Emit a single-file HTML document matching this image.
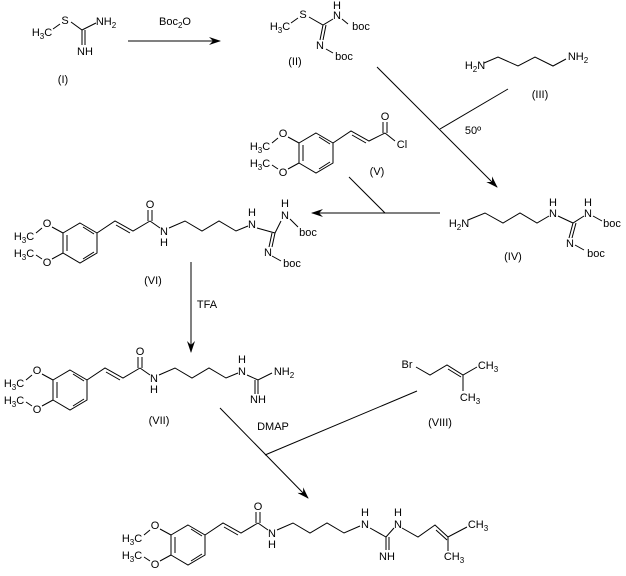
<!DOCTYPE html>
<html><head><meta charset="utf-8"><style>
html,body{margin:0;padding:0;background:#fff}
svg{display:block}
text{font-family:"Liberation Sans",Arial,sans-serif;font-size:11px;fill:#000}
.l{stroke:#000;stroke-width:1;fill:none}
</style></head><body>
<svg width="626" height="576" viewBox="0 0 626 576" xmlns="http://www.w3.org/2000/svg" text-anchor="middle" dominant-baseline="central">
<defs>
<marker id="ah" markerWidth="12" markerHeight="8" refX="11" refY="4" orient="auto" markerUnits="userSpaceOnUse">
<path d="M0,0 L12,4 L0,8 L4,4 Z" fill="#000"/></marker>
</defs>

<!-- (I) -->
<text x="42" y="33">H<tspan font-size="8" dy="3">3</tspan><tspan dy="-3">C</tspan></text>
<text x="65" y="21">S</text>
<path class="l" d="M53,29 L60,24 M71,22 L82,30 L96,23 M82,30 L82,45 M85,30 L85,45"/>
<text x="106" y="22">NH<tspan font-size="8" dy="3">2</tspan></text>
<text x="85" y="52">NH</text>
<text x="63" y="80">(I)</text>
<path class="l" d="M128,41 L220,41" marker-end="url(#ah)"/>
<text x="175" y="22">Boc<tspan font-size="8" dy="3">2</tspan><tspan dy="-3">O</tspan></text>

<!-- (II) -->
<text x="280" y="27">H<tspan font-size="8" dy="3">3</tspan><tspan dy="-3">C</tspan></text>
<text x="303" y="15">S</text>
<text x="337" y="16">N</text><text x="337" y="6">H</text>
<text x="361" y="27">boc</text>
<text x="320" y="46">N</text>
<text x="344" y="57">boc</text>
<text x="295" y="62">(II)</text>
<path class="l" d="M291,23 L298,18 M309,17 L323,25 L333,19 M342,19 L348,24 M323,25 L320,40 M326,25 L323,40 M326,49 L333,53"/>

<!-- (III) -->
<text x="475" y="66">H<tspan font-size="8" dy="3">2</tspan><tspan dy="-3">N</tspan></text>
<path class="l" d="M484,63 L498,57 L518,66 L535,57 L553,66 L566,59"/>
<text x="578" y="57">NH<tspan font-size="8" dy="3">2</tspan></text>
<text x="540" y="95">(III)</text>
<path class="l" d="M377,67 L497,187" marker-end="url(#ah)"/>
<path class="l" d="M508,89 L440,129"/>
<text x="473" y="131">50º</text>

<!-- (IV) -->
<text x="459" y="224">H<tspan font-size="8" dy="3">2</tspan><tspan dy="-3">N</tspan></text>
<path class="l" d="M468,220 L485,213 L503,223 L520,213 L537,223 L549,216 M558,216 L573,223 L584,216 M593,216 L602,221 M573,223 L569,238 M576,223 L572,238 M575,245 L584,250"/>
<text x="553" y="214">N</text><text x="553" y="203">H</text>
<text x="588" y="214">N</text><text x="588" y="203">H</text>
<text x="612" y="224">boc</text>
<text x="570" y="244">N</text>
<text x="596" y="254">boc</text>
<text x="513" y="257">(IV)</text>

<path class="l" d="M440,213 L312,213" marker-end="url(#ah)"/>
<path class="l" d="M349,177 L385,213"/>

<!-- (V) -->
<g transform="translate(316,153)">
<path class="l" d="M0,-20 L17,-10 L17,10 L0,20 L-17,10 L-17,-10 Z M-13,-8 L-13,8 M3,16 L14,9 M3,-16 L14,-9"/>
<path class="l" d="M-17,-10 L-28,-16 M-38,-15 L-44,-10 M-17,10 L-28,16 M-38,16 L-44,12"/>
<text x="-33" y="-19">O</text><text x="-33" y="20">O</text>
<text x="-56" y="-6">H<tspan font-size="8" dy="3">3</tspan><tspan dy="-3">C</tspan></text>
<text x="-56" y="11">H<tspan font-size="8" dy="3">3</tspan><tspan dy="-3">C</tspan></text>
<path class="l" d="M17,-10 L35,-22 L53,-12 L69,-20 M36,-18 L50,-10 M69,-20 L79,-12 M67,-20 L67,-31 M71,-20 L71,-31"/>
<text x="69" y="-36">O</text><text x="86" y="-8">Cl</text>
</g>
<text x="377" y="172">(V)</text>

<!-- (VI) -->
<g transform="translate(80,243)">
<path class="l" d="M0,-20 L17,-10 L17,10 L0,20 L-17,10 L-17,-10 Z M-13,-8 L-13,8 M3,16 L14,9 M3,-16 L14,-9"/>
<path class="l" d="M-17,-10 L-28,-16 M-38,-15 L-44,-10 M-17,10 L-28,16 M-38,16 L-44,12"/>
<text x="-33" y="-19">O</text><text x="-33" y="20">O</text>
<text x="-56" y="-6">H<tspan font-size="8" dy="3">3</tspan><tspan dy="-3">C</tspan></text>
<text x="-56" y="11">H<tspan font-size="8" dy="3">3</tspan><tspan dy="-3">C</tspan></text>
<path class="l" d="M17,-10 L35,-22 L53,-12 L70,-22 M36,-18 L50,-10 M70,-22 L80,-15 M68,-22 L68,-33 M72,-22 L72,-33 M89,-15 L105,-22 L122,-12 L139,-22 L156,-12 L168,-17"/>
<text x="70" y="-38">O</text>
<text x="84" y="-11">N</text><text x="84" y="0">H</text>
<text x="172" y="-18">N</text><text x="172" y="-30">H</text>
<path class="l" d="M177,-15 L195,-10 L201,-22 M210,-24 L218,-16 M195,-10 L192,4 M192,-10 L189,4 M192,13 L201,18"/>
<text x="205" y="-27">N</text><text x="205" y="-39">H</text>
<text x="228" y="-10">boc</text>
<text x="188" y="10">N</text>
<text x="212" y="21">boc</text>
</g>
<text x="153" y="281">(VI)</text>

<path class="l" d="M191,262 L191,352" marker-end="url(#ah)"/>
<text x="207" y="305">TFA</text>

<!-- (VII) -->
<g transform="translate(70,390)">
<path class="l" d="M0,-20 L17,-10 L17,10 L0,20 L-17,10 L-17,-10 Z M-13,-8 L-13,8 M3,16 L14,9 M3,-16 L14,-9"/>
<path class="l" d="M-17,-10 L-28,-16 M-38,-15 L-44,-10 M-17,10 L-28,16 M-38,16 L-44,12"/>
<text x="-33" y="-19">O</text><text x="-33" y="20">O</text>
<text x="-56" y="-6">H<tspan font-size="8" dy="3">3</tspan><tspan dy="-3">C</tspan></text>
<text x="-56" y="11">H<tspan font-size="8" dy="3">3</tspan><tspan dy="-3">C</tspan></text>
<path class="l" d="M17,-10 L35,-22 L53,-12 L70,-22 M36,-18 L50,-10 M70,-22 L80,-15 M68,-22 L68,-33 M72,-22 L72,-33 M89,-15 L105,-22 L122,-12 L139,-22 L156,-12 L168,-17"/>
<text x="70" y="-38">O</text>
<text x="84" y="-11">N</text><text x="84" y="0">H</text>
<text x="172" y="-18">N</text><text x="172" y="-30">H</text>
<path class="l" d="M177,-15 L188,-10 L202,-17 M188,-10 L188,4 M185,-10 L185,4"/>
<text x="214" y="-18">NH<tspan font-size="8" dy="3">2</tspan></text>
<text x="188" y="10">NH</text>
</g>
<text x="159" y="421">(VII)</text>

<!-- (VIII) -->
<text x="407" y="365">Br</text>
<path class="l" d="M416,367 L430,375 L447,365 L463,375 L477,367 M448,369 L461,377 M463,375 L463,391"/>
<text x="488" y="366">CH<tspan font-size="8" dy="3">3</tspan></text>
<text x="470" y="398">CH<tspan font-size="8" dy="3">3</tspan></text>
<text x="440" y="423">(VIII)</text>

<text x="273" y="427">DMAP</text>
<path class="l" d="M220,408 L308,498" marker-end="url(#ah)"/>
<path class="l" d="M417,391 L265,455"/>

<!-- final -->
<g transform="translate(188,545)">
<path class="l" d="M0,-20 L17,-10 L17,10 L0,20 L-17,10 L-17,-10 Z M-13,-8 L-13,8 M3,16 L14,9 M3,-16 L14,-9"/>
<path class="l" d="M-17,-10 L-28,-16 M-38,-15 L-44,-10 M-17,10 L-28,16 M-38,16 L-44,12"/>
<text x="-33" y="-19">O</text><text x="-33" y="20">O</text>
<text x="-56" y="-6">H<tspan font-size="8" dy="3">3</tspan><tspan dy="-3">C</tspan></text>
<text x="-56" y="11">H<tspan font-size="8" dy="3">3</tspan><tspan dy="-3">C</tspan></text>
<path class="l" d="M17,-10 L35,-22 L53,-12 L70,-22 M36,-18 L50,-10 M70,-22 L80,-15 M68,-22 L68,-33 M72,-22 L72,-33 M89,-15 L105,-22 L122,-12 L139,-22 L156,-12 L172,-19"/>
<text x="70" y="-38">O</text>
<text x="84" y="-11">N</text><text x="84" y="0">H</text>
<text x="177" y="-20">N</text><text x="177" y="-32">H</text>
<path class="l" d="M182,-17 L198,-8 L206,-17 M198,-8 L198,5 M201,-8 L201,5 M214,-17 L230,-8 L247,-20 L260,-8 L279,-18 M248,-15 L259,-5 M260,-8 L260,6"/>
<text x="210" y="-20">N</text><text x="210" y="-32">H</text>
<text x="199" y="12">NH</text>
<text x="290" y="-20">CH<tspan font-size="8" dy="3">3</tspan></text>
<text x="266" y="12">CH<tspan font-size="8" dy="3">3</tspan></text>
</g>
</svg>
</body></html>
